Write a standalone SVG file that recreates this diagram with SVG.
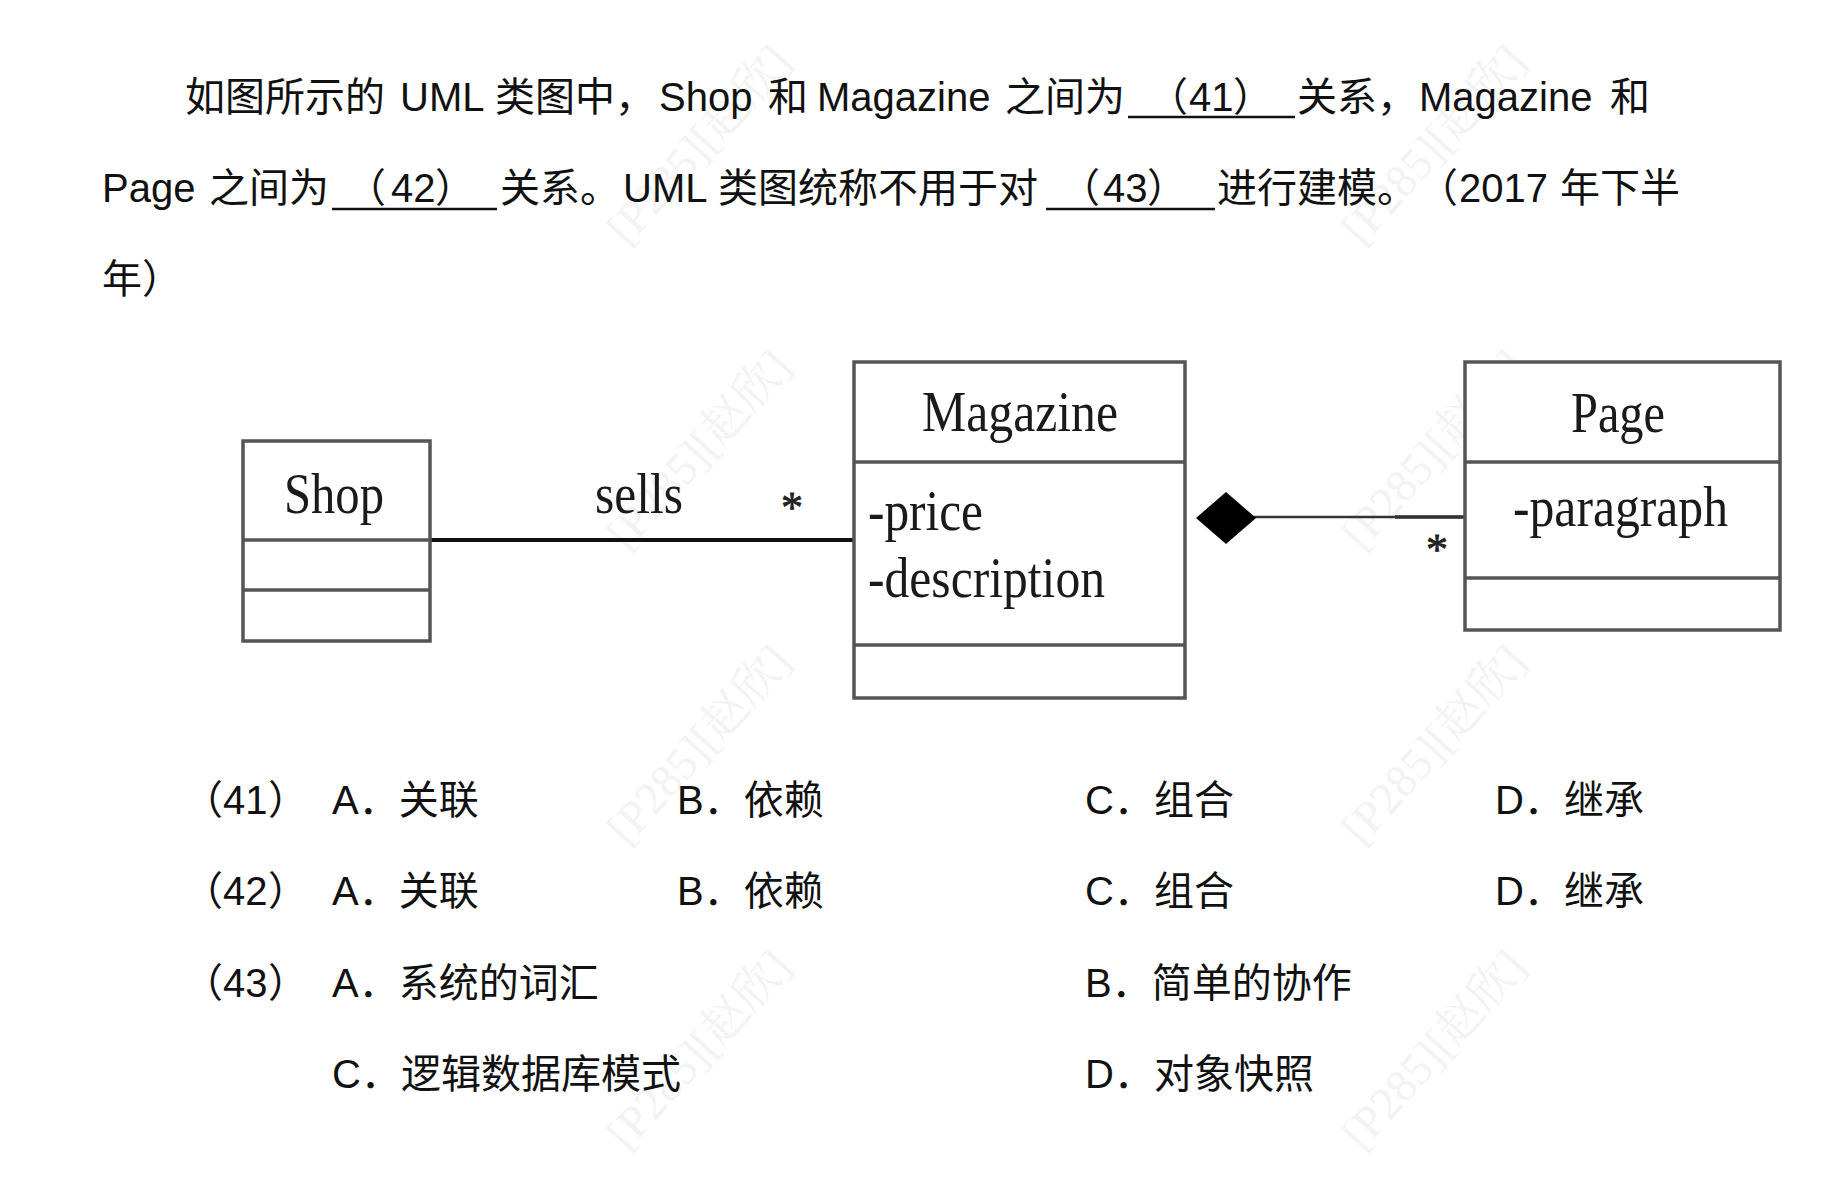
<svg xmlns="http://www.w3.org/2000/svg" width="1839" height="1177" viewBox="0 0 1839 1177">
<style>
.q{font-family:"Liberation Sans","Noto Sans CJK SC",sans-serif;font-size:40px;fill:#111}
.u{font-family:"Liberation Serif","Noto Serif CJK SC",serif;font-size:56px;fill:#1a1a1a}
.box{fill:#fff;stroke:#555;stroke-width:3.5}
.div{stroke:#555;stroke-width:3.5}
.ul{stroke:#111;stroke-width:2.5}
.wm{font-family:"Liberation Serif","Noto Serif CJK SC",serif;font-size:46px;fill:#f3f3f3}
.star{font-family:"Liberation Serif",serif;font-size:44px;fill:#222;stroke:#222;stroke-width:0.8}
</style>
<rect width="1839" height="1177" fill="#fff"/>

<g id="watermarks">
<text class="wm" transform="translate(710,155) rotate(-48)" text-anchor="middle">[P285][赵欣]</text>
<text class="wm" transform="translate(1445,155) rotate(-48)" text-anchor="middle">[P285][赵欣]</text>
<text class="wm" transform="translate(710,460) rotate(-48)" text-anchor="middle">[P285][赵欣]</text>
<text class="wm" transform="translate(1445,460) rotate(-48)" text-anchor="middle">[P285][赵欣]</text>
<text class="wm" transform="translate(710,755) rotate(-48)" text-anchor="middle">[P285][赵欣]</text>
<text class="wm" transform="translate(1445,755) rotate(-48)" text-anchor="middle">[P285][赵欣]</text>
<text class="wm" transform="translate(710,1060) rotate(-48)" text-anchor="middle">[P285][赵欣]</text>
<text class="wm" transform="translate(1445,1060) rotate(-48)" text-anchor="middle">[P285][赵欣]</text>
</g>

<g id="question">
<text class="q" y="111"><tspan x="185">如图所示的</tspan><tspan x="400">UML</tspan><tspan x="495">类图中，</tspan><tspan x="659">Shop</tspan><tspan x="768">和</tspan><tspan x="817">Magazine</tspan><tspan x="1005">之间为</tspan><tspan x="1148">（</tspan><tspan x="1189">41</tspan><tspan x="1233">）</tspan><tspan x="1297">关系，</tspan><tspan x="1419">Magazine</tspan><tspan x="1610">和</tspan></text>
<line class="ul" x1="1128" y1="117" x2="1295" y2="117"/>
<text class="q" y="202"><tspan x="102">Page</tspan><tspan x="209">之间为</tspan><tspan x="346">（</tspan><tspan x="391">42</tspan><tspan x="435">）</tspan><tspan x="500">关系。</tspan><tspan x="623">UML</tspan><tspan x="718">类图统称不用于对</tspan><tspan x="1060">（</tspan><tspan x="1103">43</tspan><tspan x="1147">）</tspan><tspan x="1217">进行建模。</tspan><tspan x="1418">（</tspan><tspan x="1459">2017</tspan><tspan x="1560">年下半</tspan></text>
<line class="ul" x1="332" y1="209" x2="497" y2="209"/>
<line class="ul" x1="1046" y1="209" x2="1215" y2="209"/>
<text class="q" x="102" y="293">年）</text>
</g>

<g id="connectors">
<line x1="430" y1="540" x2="854" y2="540" stroke="#111" stroke-width="4"/>
<text class="u" x="595" y="513" textLength="88" lengthAdjust="spacingAndGlyphs">sells</text>
<text class="star" x="792" y="522" text-anchor="middle">*</text>
<line x1="1250" y1="517" x2="1465" y2="517" stroke="#333" stroke-width="2.5"/>
<line x1="1395" y1="517" x2="1465" y2="517" stroke="#333" stroke-width="3.5"/>
<polygon points="1196,518 1226,492 1256,518 1226,544" fill="#000"/>
<text class="star" x="1437" y="564" text-anchor="middle">*</text>
</g>

<g id="Shop">
<rect class="box" x="243" y="441" width="187" height="200"/>
<line class="div" x1="243" y1="540" x2="430" y2="540"/>
<line class="div" x1="243" y1="590" x2="430" y2="590"/>
<text class="u" x="284" y="513" textLength="100" lengthAdjust="spacingAndGlyphs">Shop</text>
</g>

<g id="Magazine">
<rect class="box" x="854" y="362" width="331" height="336"/>
<line class="div" x1="854" y1="462" x2="1185" y2="462"/>
<line class="div" x1="854" y1="645" x2="1185" y2="645"/>
<text class="u" x="922" y="431" textLength="196" lengthAdjust="spacingAndGlyphs">Magazine</text>
<text class="u" x="868" y="530" textLength="115" lengthAdjust="spacingAndGlyphs">-price</text>
<text class="u" x="868" y="597" textLength="237" lengthAdjust="spacingAndGlyphs">-description</text>
</g>

<g id="Page">
<rect class="box" x="1465" y="362" width="315" height="268"/>
<line class="div" x1="1465" y1="462" x2="1780" y2="462"/>
<line class="div" x1="1465" y1="578" x2="1780" y2="578"/>
<text class="u" x="1571" y="432" textLength="94" lengthAdjust="spacingAndGlyphs">Page</text>
<text class="u" x="1513" y="526" textLength="215" lengthAdjust="spacingAndGlyphs">-paragraph</text>
</g>

<g id="options">
<text class="q" y="814"><tspan x="183">（</tspan><tspan x="223">41</tspan><tspan x="268">）</tspan><tspan x="332">A．关联</tspan><tspan x="677">B．依赖</tspan><tspan x="1085">C．组合</tspan><tspan x="1495">D．继承</tspan></text>
<text class="q" y="905"><tspan x="183">（</tspan><tspan x="223">42</tspan><tspan x="268">）</tspan><tspan x="332">A．关联</tspan><tspan x="677">B．依赖</tspan><tspan x="1085">C．组合</tspan><tspan x="1495">D．继承</tspan></text>
<text class="q" y="997"><tspan x="183">（</tspan><tspan x="223">43</tspan><tspan x="268">）</tspan><tspan x="332">A．系统的词汇</tspan><tspan x="1085">B．简单的协作</tspan></text>
<text class="q" y="1088"><tspan x="332">C．逻辑数据库模式</tspan><tspan x="1085">D．对象快照</tspan></text>
</g>
</svg>
